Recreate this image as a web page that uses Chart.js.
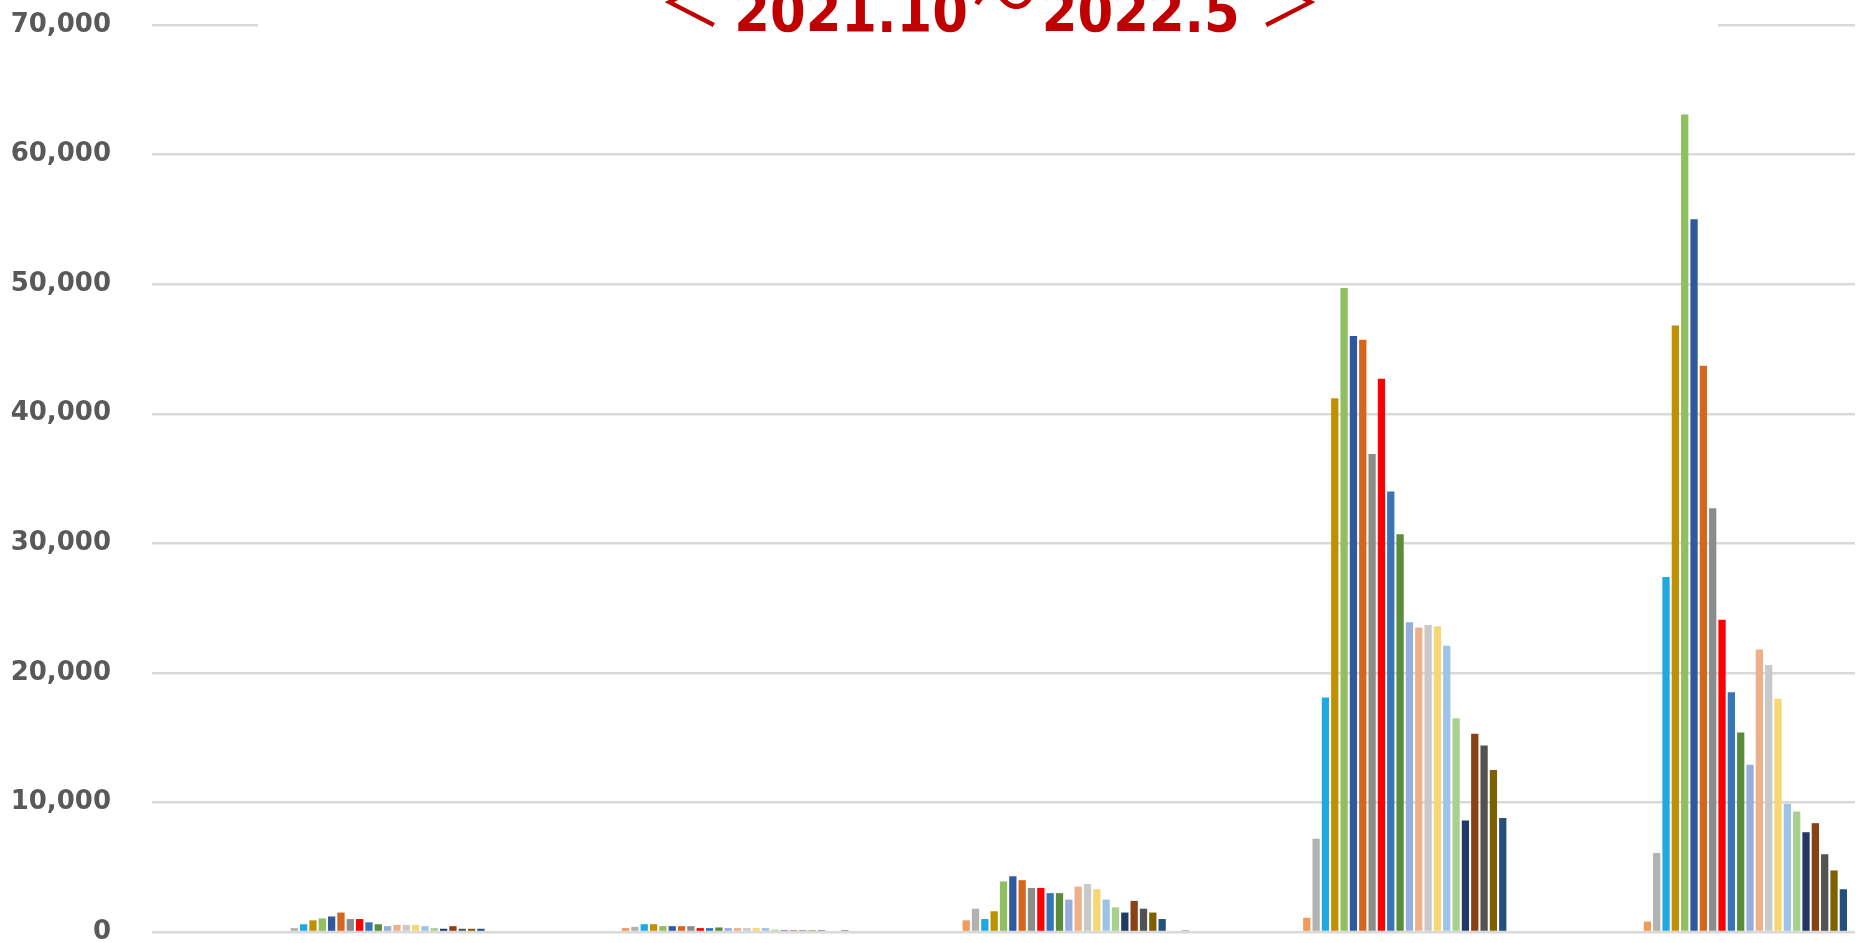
<!DOCTYPE html>
<html>
<head>
  <meta charset="UTF-8">
  <title>2021.10～2022.5</title>
  <script src="https://cdn.jsdelivr.net/npm/chart.js"></script>
  <style>
    html, body {
      margin: 0;
      padding: 0;
      background: #fff;
      overflow: hidden;
    }
    #wrap {
      position: relative;
      width: 1862px;
      height: 943px;
      overflow: hidden;
    }
    #barChart {
      position: absolute;
      left: 0;
      top: 0;
    }
    #titleBox {
      position: absolute;
      left: 258px;
      top: 0;
      width: 1460px;
      height: 40px;
      background: #fff;
      overflow: hidden;
    }
    #titleText {
      position: absolute;
      left: 5px;
      top: -16px;
      width: 100%;
      text-align: center;
      white-space: nowrap;
      color: #C00000;
      font-family: "DejaVu Sans Condensed", "DejaVu Sans", sans-serif;
      font-stretch: condensed;
      font-weight: 700;
      font-size: 57px;
      line-height: 57px;
    }
    #titleText .fw {
      position: relative;
      top: -6px;
      font-family: "Noto Sans CJK JP", sans-serif;
      font-stretch: normal;
      font-weight: 400;
      font-size: 64px;
      line-height: 0;
    }
    #titleText .open { margin-right: 12px; margin-left: -6px; }
    #titleText .close { margin-left: 18px; }
    #titleText .tilde { top: -8px; margin: 0 6px 0 4px; }
  </style>
</head>
<body>

  <div id="wrap">
    <canvas id="barChart" width="1862" height="943"></canvas>
    <div id="titleBox"><div id="titleText"><span class="fw open">＜</span><span>2021.10</span><span class="fw tilde">～</span><span>2022.5</span><span class="fw close">＞</span></div></div>
  </div>

  <script>
    // categories (their labels are cut off in the picture)
    const categories = ['区分1', '区分2', '区分3', '区分4', '区分5'];

    // 35 series per category (weekly), slot 0..34
    const seriesNames = [
      '系列1', '系列2', '系列3', '系列4', '系列5', '系列6', '系列7',
      '系列8', '系列9', '系列10', '系列11', '系列12', '系列13', '系列14',
      '系列15', '系列16', '系列17', '系列18', '系列19', '系列20', '系列21',
      '系列22', '系列23', '系列24', '系列25', '系列26', '系列27', '系列28',
      '系列29', '系列30', '系列31', '系列32', '系列33', '系列34', '系列35'
    ];

    const seriesColors = [
      '#3F3F3F', '#4472C4', '#ED7D31', '#A5A5A5', '#FFC000', '#5B9BD5', '#70AD47',
      '#264478', '#9E480E', '#636363', '#997300', '#255E91', '#43682B', '#F19A5B',
      '#B2B2B2', '#1FA9E1', '#BF9000', '#8FBF5F', '#30589C', '#D5661E', '#8C8C8C',
      '#FF0000', '#3676B8', '#5A8C3B', '#95AEDC', '#EDB08A', '#C9C9C9', '#F7D774',
      '#9DC3E6', '#A9D18E', '#223A63', '#8A4114', '#525252', '#7F6000', '#24507D'
    ];

    // values per category, one entry per series slot
    const cat1 = [0, 0, 0, 0, 0, 0, 0, 0, 0, 0, 0, 0, 0, 0,
      300, 600, 900, 1050, 1200, 1500, 1000, 1000, 750, 600, 450, 550, 550, 550,
      450, 300, 250, 450, 250, 250, 250];
    const cat2 = [0, 0, 0, 0, 0, 0, 0, 0, 0, 0, 0, 0, 0, 300,
      400, 600, 600, 450, 450, 450, 450, 300, 300, 350, 300, 300, 300, 300,
      300, 180, 130, 130, 130, 130, 130];
    const cat3 = [130, 0, 0, 0, 0, 0, 0, 0, 0, 0, 0, 0, 0, 900,
      1800, 1000, 1600, 3900, 4300, 4000, 3400, 3400, 3000, 3000, 2500, 3500, 3700, 3300,
      2500, 1900, 1500, 2400, 1800, 1500, 1000];
    const cat4 = [120, 0, 0, 0, 0, 0, 0, 0, 0, 0, 0, 0, 0, 1100,
      7200, 18100, 41200, 49700, 46000, 45700, 36900, 42700, 34000, 30700, 23900, 23500, 23700, 23600,
      22100, 16500, 8600, 15300, 14400, 12500, 8800];
    const cat5 = [0, 0, 0, 0, 0, 0, 0, 0, 0, 0, 0, 0, 0, 800,
      6100, 27400, 46800, 63100, 55000, 43700, 32700, 24100, 18500, 15400, 12900, 21800, 20600, 18000,
      9900, 9300, 7700, 8400, 6000, 4750, 3300];

    const yTicks = [0, 10000, 20000, 30000, 40000, 50000, 60000, 70000];

    const byCategory = [cat1, cat2, cat3, cat4, cat5];

    const datasets = seriesNames.map((name, i) => ({
      label: name,
      data: byCategory.map(c => c[i]),
      backgroundColor: seriesColors[i],
      borderWidth: 0,
      categoryPercentage: 0.959,
      barPercentage: 0.78
    }));

    const ctx = document.getElementById('barChart').getContext('2d');
    new Chart(ctx, {
      type: 'bar',
      data: { labels: categories, datasets: datasets },
      options: {
        responsive: false,
        animation: false,
        layout: { padding: { top: 25, right: 7, bottom: 11, left: 0 } },
        plugins: {
          legend: { display: false },
          tooltip: { enabled: false },
          title: { display: false }
        },
        scales: {
          x: {
            display: false
          },
          y: {
            min: 0,
            max: 70000,
            afterFit: function(axis) {
              axis.width = 152;
              // tick padding would otherwise push the plot area in
              axis.paddingTop = 0;
              axis.paddingBottom = 0;
            },
            afterBuildTicks: function(axis) {
              axis.ticks = yTicks.map(v => ({ value: v }));
            },
            grid: {
              color: '#D9D9D9',
              lineWidth: 2.4,
              drawTicks: false
            },
            border: { display: false },
            ticks: {
              padding: 41,
              color: '#595959',
              font: { family: 'DejaVu Sans', size: 26, weight: 'bold' },
              callback: function(v) { return Number(v).toLocaleString('en-US'); }
            }
          }
        }
      }
    });
  </script>

</body>
</html>
